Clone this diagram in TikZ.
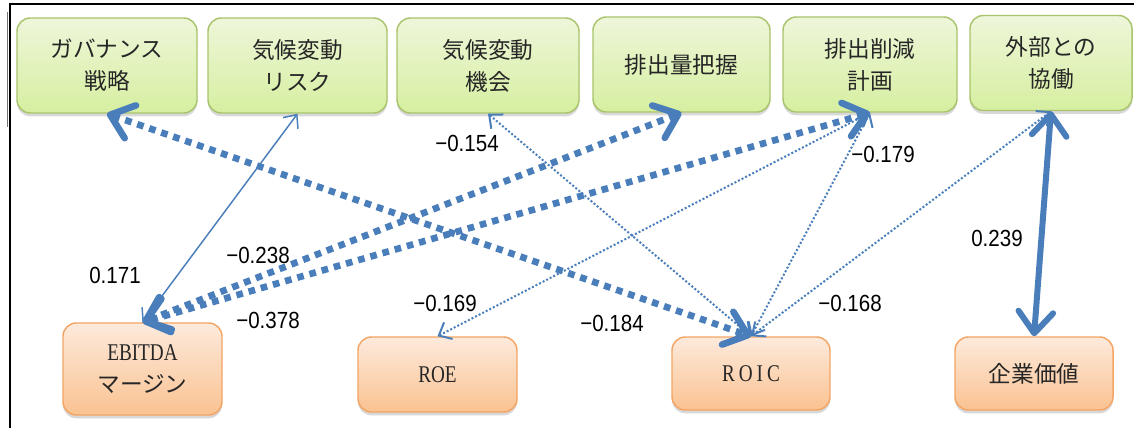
\documentclass[tikz,border=0pt]{standalone}
\usepackage{fontspec}
\newfontfamily\jp{Noto Sans CJK JP}
\newfontfamily\lat[FakeStretch=0.8]{Liberation Serif}
\newfontfamily\lab[FakeStretch=0.88]{Liberation Sans}
\usetikzlibrary{arrows.meta,shadows,calc}
\definecolor{arr}{HTML}{4A7EBB}
\definecolor{gtop}{HTML}{EEF6DA}
\definecolor{gbot}{HTML}{D6EFA0}
\definecolor{gline}{HTML}{A9C46C}
\definecolor{otop}{HTML}{FDEADC}
\definecolor{obot}{HTML}{FAC291}
\definecolor{oline}{HTML}{F3A565}
\tikzset{
  boxbase/.style={rounded corners=10pt, line width=1.1pt, inner sep=0pt, align=center,
    font=\jp\fontsize{17}{24}\selectfont, text=black!85,
    drop shadow={shadow xshift=0pt, shadow yshift=-2.5pt, opacity=0.25, fill=black!60}},
  gbox/.style={boxbase, draw=gline, top color=gtop, bottom color=gbot, minimum height=71.25pt},
  obox/.style={boxbase, draw=oline, top color=otop, bottom color=obot},
  lbl/.style={font=\lab\fontsize{17.5}{20}\selectfont, inner sep=0pt},
  thickdot/.style={draw=arr, line width=5pt, dash pattern=on 5pt off 4.5pt,
    {Straight Barb[length=16pt,width=26pt,round]}-{Straight Barb[length=16pt,width=26pt,round]}},
  thicksolid/.style={draw=arr, line width=4.5pt,
    {Straight Barb[length=16pt,width=26pt,round]}-{Straight Barb[length=16pt,width=26pt,round]}},
  thinsolid/.style={draw=arr, line width=1.1pt,
    {Straight Barb[length=8pt,width=14pt]}-{Straight Barb[length=8pt,width=14pt]}},
  thindot/.style={draw=arr, line width=1.5pt, dash pattern=on 1.5pt off 1.5pt,
    {Straight Barb[length=8pt,width=14pt]}-{Straight Barb[length=8pt,width=14pt]}}
}
\begin{document}
\begin{tikzpicture}[x=0.75pt,y=-0.75pt]
\useasboundingbox (0,0) rectangle (1134,428);
\fill[white] (0,0) rectangle (1134,428);
% frame
\draw[black, line width=1.5pt] (1134,4) -- (10,4) -- (10,428);
\draw[black!55, line width=0.8pt] (7.5,12) -- (7.5,127);
% top boxes
\node[gbox, minimum width=135pt] (gov) at (107,65.5) {ガバナンス\\戦略};
\node[gbox, minimum width=134.25pt] (risk) at (297.5,65.5) {気候変動\\リスク};
\node[gbox, minimum width=136.5pt] (opp) at (488,65.5) {気候変動\\機会};
\node[gbox, minimum width=132.75pt] (meas) at (681.5,64.5) {排出量把握};
\node[gbox, minimum width=130.5pt] (plan) at (870,64.5) {排出削減\\計画};
\node[gbox, minimum width=121.5pt] (collab) at (1051,63) {外部との\\協働};
% bottom boxes
\node[obox, minimum width=119.25pt, minimum height=69pt] (ebitda) at (142.5,369) {{\lat\fontsize{18}{24}\selectfont EBITDA}\\マージン};
\node[obox, minimum width=119.25pt, minimum height=56.25pt] (roe) at (437.5,374.5) {\lat\fontsize{18}{24}\selectfont ROE};
\node[obox, minimum width=118.5pt, minimum height=54.75pt] (roic) at (751,373.5) {\lat\fontsize{18}{24}\selectfont R\,O\,I\,C};
\node[obox, minimum width=118.5pt, minimum height=54.75pt] (value) at (1034,373.5) {企業価値};
% connectors
\draw[thinsolid] (risk.south) -- (ebitda.north);
\draw[thindot] (opp.south) -- (roic.north);
\draw[thindot] (plan.south) -- (roe.north);
\draw[thindot] (plan.south) -- (roic.north);
\draw[thindot] (collab.south) -- (roic.north);
\draw[thickdot] (gov.south) -- (roic.north);
\draw[thickdot] (meas.south) -- (ebitda.north);
\draw[thickdot] (plan.south) -- (ebitda.north);
\draw[thicksolid] (collab.south) -- (value.north);
% labels
\node[lbl] (l1) at (115,275) {0.171};
\node[lbl] (l2) at (258,255) {−0.238};
\node[lbl] (l3) at (268,320) {−0.378};
\node[lbl] (l4) at (467,143) {−0.154};
\node[lbl] (l5) at (445,303) {−0.169};
\node[lbl] (l6) at (612,323) {−0.184};
\node[lbl] (l7) at (883,154) {−0.179};
\node[lbl] (l8) at (850,303) {−0.168};
\node[lbl] (l9) at (997,238) {0.239};
\end{tikzpicture}
\end{document}
